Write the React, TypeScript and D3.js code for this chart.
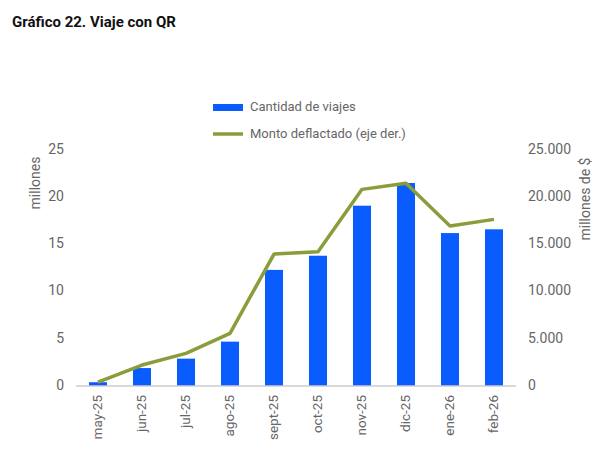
import * as d3 from 'd3';
import React from 'react';

const months = ['may-25', 'jun-25', 'jul-25', 'ago-25', 'sept-25', 'oct-25', 'nov-25', 'dic-25', 'ene-26', 'feb-26'];
const trips = [0.4, 1.9, 2.9, 4.7, 12.3, 13.8, 19.1, 21.5, 16.2, 16.6];
const amount = [400, 2220, 3460, 5580, 13980, 14230, 20830, 21470, 16950, 17650];
const leftTicks = [0, 5, 10, 15, 20, 25];
const rightTicks = [0, 5000, 10000, 15000, 20000, 25000];

const width = 605;
const height = 452;
const margin = { top: 150, right: 89, bottom: 66, left: 76 };
const barColor = '#0a5cff';
const lineColor = '#8a9d3b';
const textColor = '#666666';
const font = 'Roboto, sans-serif';

const fmt = d3.formatLocale({ decimal: ',', thousands: '.', grouping: [3], currency: ['$', ''] }).format(',d');

export default function App() {
  const innerW = width - margin.left - margin.right;
  const innerH = height - margin.top - margin.bottom;

  const x = d3.scaleBand<string>().domain(months).range([0, innerW]).paddingInner(0.59).paddingOuter(0.295);
  const yL = d3.scaleLinear().domain([0, 25]).range([innerH, 0]);
  const yR = d3.scaleLinear().domain([0, 25000]).range([innerH, 0]);

  const line = d3
    .line<number>()
    .x((_, i) => x(months[i])! + x.bandwidth() / 2)
    .y((d) => yR(d));

  return (
    <svg width={width} height={height} style={{ position: 'absolute', left: 0, top: 0, background: '#fff' }} fontFamily={font}>
      <text x={12} y={27} fontSize={15} fontWeight="bold" fill="#111">Gráfico 22. Viaje con QR</text>

      {/* legend */}
      <rect x={213} y={104} width={30} height={7} fill={barColor} />
      <text x={250} y={108} fontSize={13} fill={textColor} dominantBaseline="middle">Cantidad de viajes</text>
      <line x1={213} x2={243} y1={134} y2={134} stroke={lineColor} strokeWidth={3.5} />
      <text x={250} y={135} fontSize={13} fill={textColor} dominantBaseline="middle">Monto deflactado (eje der.)</text>

      <text transform={`translate(40,183) rotate(-90)`} textAnchor="middle" fontSize={14} fill={textColor}>millones</text>
      <text transform={`translate(590,199) rotate(-90)`} textAnchor="middle" fontSize={14} fill={textColor}>millones de $</text>

      <g transform={`translate(${margin.left},${margin.top})`}>
        {leftTicks.map((t) => (
          <text key={t} x={-12} y={yL(t)} textAnchor="end" dominantBaseline="middle" fontSize={14} fill={textColor}>{t}</text>
        ))}
        {rightTicks.map((t) => (
          <text key={t} x={innerW + 12} y={yR(t)} textAnchor="start" dominantBaseline="middle" fontSize={14} fill={textColor}>{fmt(t)}</text>
        ))}

        {trips.map((v, i) => (
          <rect key={months[i]} x={x(months[i])} y={yL(v)} width={x.bandwidth()} height={innerH - yL(v)} fill={barColor} />
        ))}

        <line x1={0} x2={innerW} y1={innerH} y2={innerH} stroke="#cccccc" strokeWidth={1.5} />

        <path d={line(amount) ?? ''} fill="none" stroke={lineColor} strokeWidth={3.5} strokeLinejoin="round" />

        {months.map((m) => (
          <text
            key={m}
            transform={`translate(${x(m)! + x.bandwidth() / 2},${innerH + 9}) rotate(-90)`}
            textAnchor="end"
            dominantBaseline="middle"
            fontSize={13.5}
            fill={textColor}
          >
            {m}
          </text>
        ))}
      </g>
    </svg>
  );
}
